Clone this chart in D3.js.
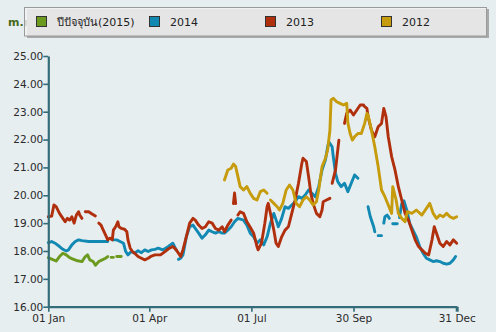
<!DOCTYPE html>
<html>
<head>
<meta charset="utf-8">
<script src="https://cdn.jsdelivr.net/npm/d3@7"></script>
<style>
  html, body { margin: 0; padding: 0; background: #e7eef0; }
  svg { display: block; }
</style>
</head>
<body>
<svg id="chart" width="496" height="332"></svg>
<script>
// Daily level readings: [day of year (0 = 1 Jan), value]; null marks a gap in the record.
const series2015 = [
  [0,17.76],[3,17.71],[7,17.64],[10,17.80],[13,17.92],[16,17.86],[19,17.76],[22,17.71],
  [25,17.66],[30,17.62],[33,17.80],[35,17.86],[37,17.68],[40,17.62],[42,17.49],[45,17.62],
  [48,17.68],[51,17.74],[53,17.80],[54,null],[56,17.77],[58,17.77],[59,null],[61,17.80],[65,17.80]
];

const series2014 = [
  [0,18.30],[3,18.34],[6,18.28],[10,18.16],[13,18.06],[16,18.00],[18,18.04],[21,18.22],
  [24,18.34],[27,18.40],[30,18.37],[36,18.34],[42,18.34],[48,18.34],[53,18.34],[55,null],
  [57,18.40],[61,18.40],[64,18.34],[67,18.28],[69,17.98],[71,17.86],[74,17.98],[77,17.92],
  [80,18.01],[83,17.94],[86,18.04],[89,17.98],[92,18.04],[95,18.06],[98,18.10],[102,18.04],
  [107,18.16],[111,18.28],[114,18.04],[115,null],[116,17.70],[118,17.74],[120,17.86],
  [122,18.28],[123,18.51],[126,18.87],[129,18.93],[131,18.81],[134,18.64],[137,18.46],
  [140,18.58],[143,18.75],[146,18.69],[149,18.64],[152,18.69],[155,18.64],[157,18.64],
  [160,18.75],[163,18.87],[166,19.05],[169,19.17],[174,19.11],[177,18.93],[180,18.64],
  [183,18.51],[186,18.28],[189,18.40],[192,18.22],[195,18.51],[198,19.00],[201,19.35],
  [204,19.00],[205,18.87],[208,19.17],[211,19.59],[214,19.53],[217,19.65],[220,19.77],
  [223,19.95],[226,19.89],[229,20.01],[232,20.19],[235,20.07],[238,19.95],[241,20.31],
  [244,20.91],[247,21.27],[249,21.74],[250,21.92],[253,21.74],[254,21.39],[256,20.79],
  [258,20.49],[261,20.31],[264,20.43],[267,20.13],[270,20.43],[273,20.73],[276,20.61],
  [277,null],[285,19.59],[287,19.23],[290,18.87],[291,18.69],[292,null],[294,18.55],
  [297,18.55],[298,null],[299,19.00],[300,19.23],[302,19.29],[304,19.17],[305,null],
  [307,18.98],[311,18.98],[312,null],[313,19.20],[315,19.70],[317,19.80],[320,19.40],
  [322,19.00],[325,18.75],[328,18.51],[331,18.16],[334,17.92],[337,17.74],[340,17.68],
  [343,17.62],[346,17.65],[349,17.62],[352,17.56],[355,17.53],[358,17.56],[361,17.68],
  [363,17.80]
];

const series2013 = [
  [0,19.23],[3,19.25],[5,19.65],[7,19.59],[10,19.35],[13,19.17],[15,19.05],[17,19.17],
  [19,19.11],[21,19.23],[23,19.00],[25,19.29],[27,19.41],[28,19.29],[30,19.17],[31,null],
  [33,19.41],[36,19.41],[39,19.33],[42,19.26],[43,null],[45,19.00],[47,18.93],[49,18.75],
  [51,18.58],[53,18.40],[55,18.46],[57,18.40],[58,18.75],[60,18.87],[62,19.05],[63,18.87],
  [65,18.81],[68,18.78],[70,18.69],[71,18.40],[73,18.10],[75,17.98],[77,17.92],[80,17.80],
  [83,17.74],[86,17.68],[89,17.74],[92,17.82],[95,17.86],[100,17.86],[104,17.98],
  [108,18.10],[111,18.16],[114,18.04],[118,17.80],[120,18.04],[123,18.51],[126,19.00],
  [129,19.17],[131,19.11],[134,18.93],[137,18.81],[140,18.87],[143,19.05],[146,19.00],
  [149,18.81],[152,18.75],[155,18.87],[157,18.69],[160,18.93],[163,19.11],[164,null],
  [165,19.70],[166,20.08],[167,19.70],[168,null],[169,19.29],[171,19.41],[174,19.35],
  [177,19.05],[180,18.85],[183,18.64],[186,18.16],[187,18.04],[190,18.28],[193,19.00],
  [195,19.59],[196,19.71],[198,19.35],[201,18.75],[203,18.28],[205,18.16],[208,18.51],
  [211,18.75],[214,18.87],[217,19.35],[220,19.83],[223,20.43],[226,21.15],[227,21.33],
  [230,21.21],[232,20.67],[234,20.07],[236,19.71],[239,19.35],[242,19.23],[244,19.47],
  [245,19.77],[248,19.83],[251,19.89],[252,null],[253,20.43],[256,20.91],[258,21.63],
  [259,21.98],[260,null],[264,22.58],[266,22.94],[269,23.06],[272,22.88],[275,23.06],
  [278,23.24],[281,23.24],[282,23.18],[284,23.12],[285,22.82],[288,22.34],[291,22.10],
  [294,22.46],[297,22.58],[299,23.12],[301,22.82],[303,22.10],[306,21.39],[309,20.91],
  [312,20.31],[315,19.83],[318,19.35],[321,19.11],[324,18.75],[327,18.40],[330,18.16],
  [333,18.04],[336,17.92],[339,17.86],[342,18.40],[344,18.87],[346,18.64],[349,18.28],
  [352,18.16],[355,18.34],[358,18.22],[361,18.40],[364,18.28]
];

const series2012 = [
  [157,20.55],[160,20.91],[163,20.97],[165,21.12],[167,21.03],[169,20.67],[171,20.31],
  [174,20.19],[177,20.31],[180,20.07],[183,19.89],[186,19.83],[189,20.13],[192,20.19],
  [195,20.07],[196,null],[198,19.83],[201,19.71],[204,19.59],[206,19.47],[209,19.71],
  [212,20.19],[215,20.37],[218,20.19],[221,19.71],[224,19.59],[227,19.83],[230,19.95],
  [233,19.83],[236,19.65],[239,19.77],[241,20.19],[244,21.03],[247,21.33],[249,21.63],
  [251,22.34],[252,23.42],[254,23.48],[257,23.36],[260,23.30],[263,23.24],[266,23.30],
  [267,22.60],[269,22.22],[271,21.98],[273,22.10],[276,22.22],[279,22.22],[282,22.58],
  [284,22.94],[285,22.88],[288,22.34],[291,21.74],[294,21.03],[297,20.19],[300,19.95],
  [303,19.65],[306,19.35],[307,20.31],[310,19.83],[312,19.35],[315,19.17],[318,19.05],
  [320,19.41],[324,19.35],[328,19.47],[333,19.29],[337,19.53],[340,19.71],[343,19.35],
  [346,19.17],[349,19.29],[352,19.23],[355,19.35],[358,19.23],[361,19.17],[364,19.23]
];

const legendLabels = ["ปีปัจจุบัน(2015)", "2014", "2013", "2012"];
const seriesColors = ["#6b9a1e", "#1189b3", "#b02f0c", "#c69b0c"];
const yTicks = [16, 17, 18, 19, 20, 21, 22, 23, 24, 25];
const xTickDates = ["2015-01-01", "2015-04-01", "2015-07-01", "2015-09-30", "2015-12-31"];
const unitLabel = "m.msl";

const allSeries = [series2015, series2014, series2013, series2012];

const svg = d3.select("#chart");
const W = 496, H = 332;
const margin = { left: 48.3, right: 39.3, top: 56, bottom: 25.3 };

const parse = d3.utcParse("%Y-%m-%d");
const start = parse("2015-01-01");
const dayToDate = d => d3.utcDay.offset(start, d);

const x = d3.scaleUtc()
  .domain([start, parse("2015-12-31")])
  .range([margin.left, W - margin.right]);
const y = d3.scaleLinear()
  .domain([16, 25])
  .range([H - margin.bottom, margin.top]);

svg.append("rect").attr("width", W).attr("height", H).attr("fill", "#e7eef0");

// unit label, partly under the translucent legend
svg.append("text")
  .attr("x", 8).attr("y", 26)
  .attr("font-family", "DejaVu Sans, sans-serif")
  .attr("font-size", 11).attr("font-weight", "bold")
  .attr("fill", "#47691a")
  .text(unitLabel);

// lines
const line = d3.line()
  .defined(d => d[1] != null)
  .x(d => x(dayToDate(d[0])))
  .y(d => y(d[1]))
  .curve(d3.curveLinear);

const drawOrder = [1, 2, 3, 0];
const plot = svg.append("g");
drawOrder.forEach(i => {
  plot.append("path")
    .datum(allSeries[i])
    .attr("fill", "none")
    .attr("stroke", seriesColors[i])
    .attr("stroke-width", 2.9)
    .attr("stroke-linejoin", "round")
    .attr("stroke-linecap", "round")
    .attr("d", line);
});

// axes
const axisColor = "#346c79";
const yAxis = svg.append("g")
  .attr("transform", `translate(${margin.left},0)`)
  .call(d3.axisLeft(y).tickValues(yTicks).tickFormat(d3.format(".2f")).tickSize(5).tickSizeOuter(0));
const xAxis = svg.append("g")
  .attr("transform", `translate(0,${H - margin.bottom})`)
  .call(d3.axisBottom(x).tickValues(xTickDates.map(parse)).tickFormat(d3.utcFormat("%d %b")).tickSize(5).tickSizeOuter(0));

[yAxis, xAxis].forEach(g => {
  g.select(".domain").attr("stroke", axisColor).attr("stroke-width", 2.2);
  g.selectAll(".tick line").attr("stroke", axisColor).attr("stroke-width", 1.6);
  g.selectAll(".tick text")
    .attr("fill", "#2a2a2a")
    .attr("font-family", "DejaVu Sans, sans-serif")
    .attr("font-size", 10.5);
});
yAxis.selectAll(".tick text").attr("x", -5);
xAxis.selectAll(".tick text").attr("y", 8);
xAxis.selectAll(".tick line").filter((d, i, n) => i === n.length - 1).attr("stroke-width", 3);

// legend
const lg = svg.append("g");
lg.append("rect")
  .attr("x", 27).attr("y", 9).attr("width", 462).attr("height", 29)
  .attr("fill", "#a9a9a9");
lg.append("rect")
  .attr("x", 24.5).attr("y", 7.5).attr("width", 462).attr("height", 28.5)
  .attr("fill", "#f1f1f1").attr("fill-opacity", 0.82)
  .attr("stroke", "#9a9a9a").attr("stroke-width", 1);

const legendX = [36, 149, 265, 381];
legendLabels.forEach((label, i) => {
  lg.append("rect")
    .attr("x", legendX[i] + 0.5).attr("y", 16.5).attr("width", 10).attr("height", 10)
    .attr("fill", seriesColors[i]).attr("stroke", "#333").attr("stroke-width", 1);
  lg.append("text")
    .attr("x", legendX[i] + 21).attr("y", 25.5)
    .attr("font-family", "DejaVu Sans, sans-serif")
    .attr("font-size", 11)
    .attr("fill", "#222")
    .text(label);
});
</script>
</body>
</html>
